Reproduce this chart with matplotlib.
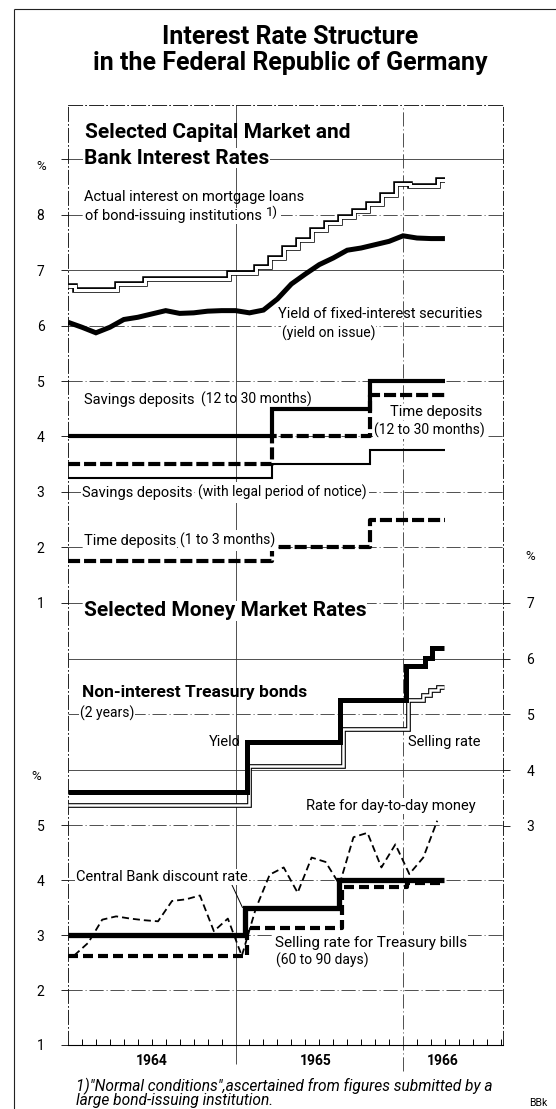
import numpy as np
import matplotlib
matplotlib.use('Agg')
import matplotlib.pyplot as plt
from matplotlib import rcParams

rcParams['font.family'] = ['Roboto', 'DejaVu Sans']
rcParams['axes.linewidth'] = 0.7
rcParams['lines.solid_capstyle'] = 'butt'
rcParams['lines.dash_capstyle'] = 'butt'
rcParams['lines.solid_joinstyle'] = 'miter'

W, H = 556, 1109

# ---- data (x = months counted from January 1964) ----
months = np.arange(28)

# capital market, monthly
mortgage = [6.72, 6.65, 6.65, 6.65, 6.75, 6.75, 6.84, 6.84, 6.84, 6.84, 6.84, 6.84,
            6.95, 6.95, 7.05, 7.22, 7.40, 7.55, 7.72, 7.85, 7.96, 8.07, 8.20, 8.35,
            8.56, 8.52, 8.52, 8.62]
bond_yield = [6.06, 5.97, 5.87, 5.97, 6.11, 6.15, 6.21, 6.27, 6.22, 6.23, 6.26, 6.27,
              6.27, 6.23, 6.28, 6.48, 6.75, 6.93, 7.10, 7.22, 7.36, 7.40, 7.46, 7.52,
              7.62, 7.58, 7.57, 7.57]

# bank deposit rates (step changes, last entry = end of series)
deposit_changes = [0, 14.6, 21.6, 27.0]
savings_long = [4.0, 4.5, 5.0]
time_long = [3.5, 4.0, 4.75]
savings_notice = [3.25, 3.5, 3.75]
time_short = [1.75, 2.0, 2.5]

# money market
tb_yield_changes = [0, 12.8, 19.5, 24.2, 25.6, 26.1, 26.9]
tb_yield = [3.60, 4.50, 5.25, 5.86, 6.02, 6.19]
tb_sell_changes = [0, 13.0, 19.7, 24.35, 25.4, 25.9, 26.5, 26.9]
tb_sell = [3.37, 4.08, 4.73, 5.26, 5.35, 5.44, 5.49]

discount_changes = [0, 12.7, 19.4, 26.9]
discount = [3.0, 3.5, 4.0]
tbill_changes = [0, 12.85, 19.6, 24.3, 26.8]
tbill = [2.625, 3.125, 3.875, 3.94]

call_money = [2.63, 2.86, 3.28, 3.34, 3.30, 3.27, 3.25, 3.62, 3.65, 3.72, 3.07, 3.30,
              2.62, 3.48, 4.10, 4.23, 3.77, 4.41, 4.33, 3.92, 4.78, 4.86, 4.23, 4.65,
              4.11, 4.41, 5.08]

years = ['1964', '1965', '1966']


def steps(ax, changes, levels, **kw):
    ax.plot(changes, list(levels) + [levels[-1]], drawstyle='steps-post', **kw)


fig = plt.figure(figsize=(W / 100, H / 100), dpi=100)
ax = fig.add_axes([68 / W, 1 - 1045 / H, (503 - 68) / W, (1045 - 105) / H])
ax_ll = ax.twinx()
ax_r = ax.twinx()

ax.set_xlim(0, 31.16)
ax.set_ylim(-6.98, 9.98)
ax_ll.set_ylim(1, 18.1)
ax_r.set_ylim(-0.93, 15.93)

grid_ls = (0, (17, 3.5, 1.2, 3.5))
gkw = dict(color='#333333', lw=0.6, zorder=1)

for sp in ['top', 'left', 'right']:
    ax.spines[sp].set_linestyle(grid_ls)
    ax.spines[sp].set_linewidth(0.6)
ax.spines['bottom'].set_linewidth(0.8)
for a in (ax_ll, ax_r):
    for sp in a.spines.values():
        sp.set_visible(False)

# grid
for v in range(1, 10):
    ax.axhline(v, ls='-' if v in (7, 9) else grid_ls, **gkw)
for v in (4, 5, 6):
    ax_r.axhline(v, ls='-' if v in (4, 6) else grid_ls, **gkw)
for v in (2, 3, 4, 5):
    ax_ll.axhline(v, ls=grid_ls, **gkw)
ax.axvline(12, ymin=-0.02, ymax=1, ls='-', clip_on=False, **gkw)
ax.axvline(24, ymin=-0.028, ymax=1, ls=grid_ls, clip_on=False, **gkw)

# ticks
ax.set_xticks([0, 12, 24])
ax.set_xticklabels([])
ax.set_xticks(np.arange(0, 32), minor=True)
ax.tick_params(axis='x', which='major', length=0)
ax.tick_params(axis='x', which='minor', direction='in', length=4, width=0.7)

tkw = dict(axis='y', direction='out', length=5, width=0.6, pad=12, labelsize=10)
ax.set_yticks(range(1, 10))
ax.set_yticklabels([str(v) for v in range(1, 9)] + [''])
ax.tick_params(**tkw)
ax_ll.yaxis.tick_left()
ax_ll.set_yticks(range(1, 6))
ax_ll.tick_params(**tkw)
ax_r.set_yticks(range(3, 8))
ax_r.tick_params(**tkw)

# ---- capital market and bank rates ----
ax.plot(months, mortgage, drawstyle='steps-mid', color='black', lw=4.0, zorder=4)
ax.plot(months, mortgage, drawstyle='steps-mid', color='white', lw=2.2, zorder=5)
ax.plot(months, bond_yield, color='black', lw=3.6, zorder=4)

thick_dash = (0, (2.9, 0.95))
steps(ax, deposit_changes, savings_long, color='black', lw=3.0, zorder=4)
steps(ax, deposit_changes, time_long, color='black', lw=3.0, ls=thick_dash, zorder=4)
steps(ax, deposit_changes, savings_notice, color='black', lw=1.5, zorder=4)
steps(ax, deposit_changes, time_short, color='black', lw=3.0, ls=thick_dash, zorder=4)

# ---- money market ----
steps(ax_r, tb_yield_changes, tb_yield, color='black', lw=3.6, zorder=5)
steps(ax_r, tb_sell_changes, tb_sell, color='black', lw=3.4, zorder=4)
steps(ax_r, tb_sell_changes, tb_sell, color='white', lw=1.8, zorder=4)

steps(ax_ll, discount_changes, discount, color='black', lw=3.8, zorder=4)
steps(ax_ll, tbill_changes, tbill, color='black', lw=3.0, ls=(0, (2.4, 1.2)), zorder=4)
ax_ll.plot(months[:27] + 0.45, call_money, color='black', lw=1.3, ls=(0, (3.9, 2.2)), zorder=4)
ax_ll.annotate('', xy=(12.5, 3.5), xycoords='data', xytext=(232, H - 885),
               textcoords='figure pixels',
               arrowprops=dict(arrowstyle='-', lw=0.7, color='black', shrinkA=0, shrinkB=0))

# ---- texts ----
BG = dict(fc='white', ec='none', pad=0.6)
BG2 = dict(fc='white', ec='none', pad=2.0)


def label(px, py, s, size=10.5, weight='normal', ha='left', style='normal', bg=False):
    return fig.text(px / W, 1 - py / H, s, fontsize=size, fontweight=weight, ha=ha,
                    va='center', style=style, bbox=BG if bg else None)


def after(prev, s, size=10, gap=5, dy=0, bg=False):
    # small text following on the same line
    return ax_r.annotate(s, xy=(1, 0), xycoords=prev, xytext=(gap, dy),
                         textcoords='offset points', va='bottom', ha='left',
                         fontsize=size, annotation_clip=False, bbox=BG2 if bg else None)


label(290, 37, 'Interest Rate Structure', size=18, weight='bold', ha='center')
label(290, 63, 'in the Federal Republic of Germany', size=18, weight='bold', ha='center')

label(85, 133, 'Selected Capital Market and', size=15, weight='bold')
label(84, 158, 'Bank Interest Rates', size=15, weight='bold', bg=True)
label(41, 166, '%', size=9.5, ha='center')

label(84, 197, 'Actual interest on mortgage loans')
t = label(85, 216, 'of bond-issuing institutions', bg=True)
after(t, '1)', size=9.5, gap=3, dy=3, bg=True)
label(278, 314, 'Yield of fixed-interest securities')
label(282, 333, '(yield on issue)', size=10, bg=True)

t = label(84, 400, 'Savings deposits')
after(t, '(12 to 30 months)')
label(390, 412, 'Time deposits', bg=True)
label(374, 430, '(12 to 30 months)', size=10, bg=True)
t = label(82, 493, 'Savings deposits', bg=True)
after(t, '(with legal period of notice)', gap=4, bg=True)
t = label(84, 541, 'Time deposits', bg=True)
after(t, '(1 to 3 months)', gap=3, bg=True)

label(84, 611, 'Selected Money Market Rates', size=15, weight='bold', bg=True)
label(530, 556, '%', size=9.5, ha='center')
label(82, 692, 'Non-interest Treasury bonds', size=12.5, weight='bold')
label(80, 713, '(2 years)', size=10, bg=True)
label(241, 742, 'Yield', ha='right')
label(408, 742, 'Selling rate')
label(306, 806, 'Rate for day-to-day money', bg=True)
label(36, 777, '%', size=9.5, ha='center')
label(76, 877, 'Central Bank discount rate', bg=True)
label(275, 943, 'Selling rate for Treasury bills', size=11, bg=True)
label(276, 960, '(60 to 90 days)', size=10)

for px, yr in zip([152, 316, 443], years):
    label(px, 1061, yr, size=10, weight='bold', ha='center')

label(76, 1086, '1)"Normal conditions",ascertained from figures submitted by a', size=11.2, style='italic')
label(76, 1100, 'large bond-issuing institution.', size=11.2, style='italic')
label(538, 1103, 'BBk', size=7.5, ha='center')

# outer frame
fig.add_artist(plt.Line2D([13.5 / W, 13.5 / W], [0, 1 - 9 / H], transform=fig.transFigure,
                          color='#222222', lw=0.8))
fig.add_artist(plt.Line2D([13.5 / W, 1], [1 - 9 / H, 1 - 9 / H], transform=fig.transFigure,
                          color='#222222', lw=0.8))

plt.savefig('out.png', dpi=100)
plt.close()
